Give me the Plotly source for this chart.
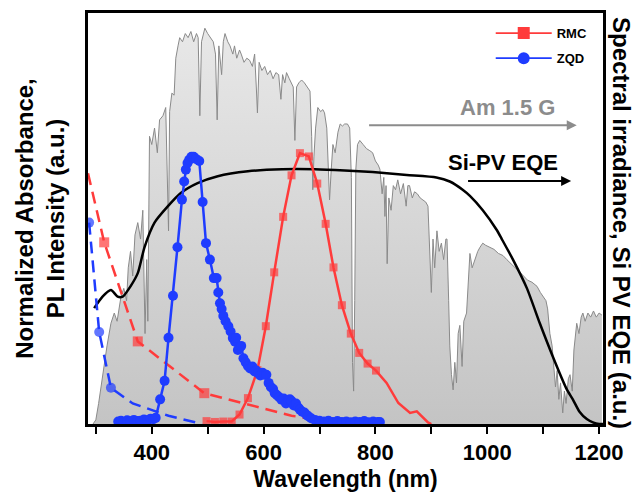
import plotly.graph_objects as go

# ---------------- data ----------------
# AM 1.5 G spectral irradiance (a.u.)
wl_am15 = [295, 300, 305, 310, 315, 320, 327, 333, 338, 345, 350, 355, 358, 362, 366, 370, 375, 380, 384, 388,
           391, 393, 396, 400, 405, 410, 414, 420, 425, 430, 432, 436, 440, 443, 447, 450, 455, 460, 465, 470,
           475, 480, 483, 486, 489, 495, 500, 505, 510, 514, 517, 520, 525, 528, 531, 536, 540, 545, 548, 552,
           557, 560, 565, 570, 575, 580, 584, 587, 589, 592, 597, 602, 607, 612, 617, 622, 627, 631, 634, 638,
           641, 646, 650, 653, 656, 659, 663, 668, 673, 678, 683, 686, 688, 690, 693, 697, 702, 706, 709, 713,
           716, 718, 721, 724, 728, 733, 737, 741, 745, 750, 754, 757, 759, 761, 763, 765, 768, 772, 778, 784,
           790, 795, 800, 805, 808, 812, 815, 817, 819, 821, 824, 828, 832, 836, 840, 845, 850, 855, 858, 861,
           866, 870, 875, 880, 885, 890, 894, 897, 900, 903, 906, 910, 914, 918, 922, 926, 928, 931, 933, 936,
           939, 942, 945, 948, 951, 955, 958, 963, 966, 969, 973, 978, 983, 987, 992, 997, 1005, 1012, 1020, 1028,
           1035, 1042, 1050, 1058, 1065, 1072, 1080, 1089, 1095, 1100, 1105, 1108, 1112, 1116, 1119, 1122, 1125,
           1128, 1131, 1135, 1138, 1141, 1145, 1148, 1152, 1155, 1160, 1164, 1168, 1171, 1175, 1180, 1185, 1190,
           1195, 1200, 1205]
irr_am15 = [0.0, 0.01, 0.05, 0.10, 0.148, 0.19, 0.245, 0.27, 0.25, 0.31, 0.33, 0.30, 0.38, 0.42, 0.36, 0.46, 0.49, 0.45, 0.52, 0.22,
            0.40, 0.25, 0.70, 0.68, 0.72, 0.66, 0.74, 0.75, 0.77, 0.47, 0.76, 0.805, 0.80, 0.89, 0.92, 0.94, 0.93, 0.95, 0.94, 0.955,
            0.93, 0.95, 0.94, 0.75, 0.93, 0.963, 0.95, 0.94, 0.93, 0.90, 0.74, 0.92, 0.85, 0.93, 0.95, 0.93, 0.92, 0.90, 0.92, 0.89,
            0.91, 0.90, 0.88, 0.89, 0.885, 0.87, 0.90, 0.82, 0.757, 0.88, 0.86, 0.87, 0.85, 0.86, 0.84, 0.855, 0.85, 0.79, 0.85, 0.83,
            0.855, 0.84, 0.83, 0.82, 0.69, 0.82, 0.83, 0.837, 0.83, 0.82, 0.81, 0.70, 0.57, 0.65, 0.72, 0.77, 0.76, 0.765, 0.757, 0.72,
            0.60, 0.545, 0.62, 0.68, 0.66, 0.71, 0.73, 0.725, 0.73, 0.73, 0.72, 0.60, 0.15, 0.08, 0.30, 0.62, 0.68, 0.69, 0.68, 0.67,
            0.665, 0.66, 0.64, 0.63, 0.62, 0.56, 0.60, 0.505, 0.58, 0.39, 0.55, 0.52, 0.58, 0.57, 0.594, 0.56, 0.585, 0.53, 0.58, 0.58,
            0.55, 0.565, 0.56, 0.55, 0.545, 0.54, 0.53, 0.42, 0.32, 0.45, 0.38, 0.47, 0.42, 0.44, 0.40, 0.45, 0.45, 0.30, 0.19, 0.12,
            0.083, 0.15, 0.10, 0.22, 0.24, 0.14, 0.25, 0.27, 0.36, 0.415, 0.38, 0.40, 0.42, 0.43, 0.44, 0.435, 0.43, 0.425, 0.415, 0.41,
            0.40, 0.39, 0.38, 0.37, 0.36, 0.35, 0.345, 0.335, 0.32, 0.31, 0.30, 0.28, 0.22, 0.19, 0.14, 0.09, 0.13,
            0.06, 0.10, 0.027, 0.08, 0.05, 0.11, 0.12, 0.08, 0.18, 0.245, 0.22, 0.26, 0.27, 0.25, 0.27, 0.26, 0.275,
            0.26, 0.27, 0.265]

# Si-PV EQE (a.u.)
wl_eqe = [297, 312, 327, 339, 348, 362, 375, 387, 405, 429, 452, 482, 518, 572, 633, 692, 745, 795, 856, 909,
          933, 956, 969, 992, 1017, 1026, 1046, 1071, 1094, 1117, 1142, 1153, 1165, 1178, 1189, 1200, 1207]
eqe = [0.282, 0.31, 0.326, 0.31, 0.31, 0.335, 0.367, 0.43, 0.49, 0.53, 0.562, 0.586, 0.603, 0.615, 0.62, 0.62, 0.617, 0.613, 0.606, 0.60,
       0.59, 0.57, 0.555, 0.52, 0.472, 0.45, 0.40, 0.33, 0.245, 0.165, 0.085, 0.06, 0.03, 0.012, 0.004, 0.0, 0.0]

# RMC photoluminescence (normalized)
wl_rmc_pl = [498, 513, 528, 543, 557, 572, 589, 604, 619, 635, 650, 665, 681, 696, 711, 725, 740, 756, 771, 786, 801,
             820, 841, 862, 874, 894, 900]
rmc_pl = [0.007, 0.005, 0.006, 0.006, 0.023, 0.063, 0.131, 0.238, 0.369, 0.504, 0.605, 0.659, 0.651, 0.585, 0.487, 0.381,
          0.289, 0.22, 0.173, 0.147, 0.13, 0.10, 0.051, 0.027, 0.031, 0.004, 0.0]
rmc_pl_marked = [True] * 21 + [False] * 6

# ZQD photoluminescence (normalized)
wl_zqd_pl = [340, 345, 350, 356, 362, 368, 374, 380, 386, 392, 398, 403, 407, 415, 423, 430, 438, 446, 454, 458,
             461, 464, 467, 471, 475, 479, 485, 491, 497, 504, 511, 516, 519, 522, 525, 528, 532, 537, 541, 545,
             549, 551, 554, 557, 560, 564, 568, 572, 576, 580, 584, 587, 590, 594, 598, 601, 605, 609, 613, 617,
             620, 624, 628, 632, 636, 640, 644, 647, 650, 654, 658, 662, 665, 669, 673, 677, 680, 685, 692, 700,
             708, 716, 724, 732, 740, 748, 756, 764, 772, 780, 788, 796, 804, 808]
zqd_pl = [0.006, 0.008, 0.005, 0.009, 0.006, 0.01, 0.007, 0.008, 0.011, 0.009, 0.013, 0.012, 0.015, 0.06, 0.105, 0.21, 0.312, 0.43, 0.546, 0.59,
          0.619, 0.635, 0.643, 0.65, 0.65, 0.645, 0.64, 0.54, 0.44, 0.40, 0.355, 0.355, 0.32, 0.294, 0.28, 0.263, 0.25, 0.238, 0.225, 0.209,
          0.20, 0.21, 0.18, 0.185, 0.19, 0.16, 0.15, 0.141, 0.135, 0.14, 0.128, 0.13, 0.124, 0.118, 0.125, 0.12, 0.12, 0.10, 0.09, 0.085,
          0.075, 0.07, 0.065, 0.059, 0.062, 0.05, 0.058, 0.06, 0.056, 0.045, 0.05, 0.04, 0.035, 0.03, 0.028, 0.022, 0.019, 0.014, 0.01, 0.008,
          0.006, 0.008, 0.005, 0.007, 0.005, 0.006, 0.004, 0.006, 0.005, 0.007, 0.004, 0.006, 0.005, 0.005]

# Absorbance (normalized)
wl_rmc_abs = [286, 315, 375, 494, 650, 700]
rmc_abs = [0.61, 0.442, 0.201, 0.075, 0.02, 0.01]
rmc_abs_marked = [False, True, True, True, False, False]

wl_zqd_abs = [288, 306, 327, 366, 430, 490]
zqd_abs = [0.49, 0.224, 0.088, 0.05, 0.02, 0.0]
zqd_abs_marked = [True, True, True, False, False, False]

legend_names = ["RMC", "ZQD"]

x_tick_vals = [300, 400, 500, 600, 700, 800, 900, 1000, 1100, 1200]
x_tick_text = ["", "400", "", "600", "", "800", "", "1000", "", "1200"]

# ---------------- styling ----------------
RED = "#ff3b3b"
BLUE = "#1f3cff"
FONT = "Liberation Sans"

def sizes(flags, s):
    return [s if f else 0 for f in flags]

fig = go.Figure()

# spectrum (right-hand base axis)
fig.add_trace(go.Scatter(
    x=wl_am15, y=irr_am15, mode="lines", yaxis="y", showlegend=False,
    line=dict(color="#8a8a8a", width=1),
    fill="tozeroy",
    fillgradient=dict(type="vertical", colorscale=[[0, "#c4c4c4"], [1, "#e8e8e8"]]),
))
fig.add_trace(go.Scatter(
    x=wl_eqe, y=eqe, mode="lines", yaxis="y", showlegend=False,
    line=dict(color="black", width=2.5, shape="spline", smoothing=0.6),
))

# absorbance (dashed)
fig.add_trace(go.Scatter(
    x=wl_rmc_abs, y=rmc_abs, mode="lines+markers", yaxis="y2", showlegend=False,
    line=dict(color=RED, width=2.5, dash="12px,7px"),
    marker=dict(symbol="square", size=sizes(rmc_abs_marked, 10), color=RED, line=dict(width=0)),
))
fig.add_trace(go.Scatter(
    x=wl_zqd_abs, y=zqd_abs, mode="lines+markers", yaxis="y2", showlegend=False,
    line=dict(color=BLUE, width=2.5, dash="12px,7px"),
    marker=dict(symbol="circle", size=sizes(zqd_abs_marked, 10), color=BLUE, line=dict(width=0)),
))

# photoluminescence
fig.add_trace(go.Scatter(
    x=wl_rmc_pl, y=rmc_pl, mode="lines+markers", yaxis="y2", name="RMC", showlegend=False,
    line=dict(color=RED, width=2.5),
    marker=dict(symbol="square", size=sizes(rmc_pl_marked, 8), color=RED, line=dict(width=0)),
))
fig.add_trace(go.Scatter(
    x=wl_zqd_pl, y=zqd_pl, mode="lines+markers", yaxis="y2", name="ZQD", showlegend=False,
    line=dict(color=BLUE, width=2.5),
    marker=dict(symbol="circle", size=10, color=BLUE, line=dict(width=0)),
))

# legend entries (thin line, large symbol, as in the reference key)
fig.add_trace(go.Scatter(
    x=[None], y=[None], mode="lines+markers", yaxis="y2", name=legend_names[0], legend="legend",
    line=dict(color=RED, width=1.6), marker=dict(symbol="square", size=12, color=RED, line=dict(width=0)),
))
fig.add_trace(go.Scatter(
    x=[None], y=[None], mode="lines+markers", yaxis="y2", name=legend_names[1], legend="legend2",
    line=dict(color=BLUE, width=1.6), marker=dict(symbol="circle", size=12, color=BLUE, line=dict(width=0)),
))

axis_line = dict(showline=True, linecolor="black", linewidth=2.5, showgrid=False, zeroline=False, automargin=False)
legend_style = dict(xanchor="left", yanchor="middle", bgcolor="rgba(0,0,0,0)",
                    font=dict(size=13, family=FONT, weight="bold"), itemwidth=56)

fig.update_layout(
    width=635, height=492,
    margin=dict(l=88, r=32, t=13, b=68, autoexpand=False),
    paper_bgcolor="white", plot_bgcolor="white",
    font=dict(family=FONT, color="black", size=22, weight="bold"),
    xaxis=dict(
        range=[286, 1207], tickvals=x_tick_vals, ticktext=x_tick_text,
        ticks="outside", ticklen=7, tickwidth=2, tickcolor="black",
        tickfont=dict(size=22, family=FONT, weight="bold"),
        title=dict(text="Wavelength (nm)", font=dict(size=23, family=FONT, weight="bold"), standoff=8),
        mirror=True, **axis_line,
    ),
    yaxis=dict(range=[0, 1], side="right", showticklabels=False, ticks="", **axis_line),
    yaxis2=dict(
        range=[0, 1], overlaying="y", side="left", showticklabels=False, ticks="",
        title=dict(text="Normalized Absorbance,<br>PL Intensity (a.u.)",
                   font=dict(size=24, family=FONT, weight="bold"), standoff=14),
        **axis_line,
    ),
    legend=dict(x=0.782, y=0.951, **legend_style),
    legend2=dict(x=0.782, y=0.890, **legend_style),
    annotations=[
        dict(text="Spectral irradiance, Si PV EQE (a.u.)", textangle=90, xref="paper", yref="paper",
             x=1.037, y=0.489, xanchor="center", yanchor="middle", showarrow=False,
             font=dict(size=24, family=FONT, weight="bold")),
        dict(text="Am 1.5 G", x=1037, y=0.771, xref="x", yref="y", showarrow=False,
             font=dict(size=22, family=FONT, weight="bold", color="#8c8c8c")),
        dict(text="", x=1160, y=0.727, ax=786, ay=0.727, xref="x", yref="y", axref="x", ayref="y",
             showarrow=True, arrowhead=2, arrowsize=1, arrowwidth=2, arrowcolor="#8c8c8c"),
        dict(text="Si-PV EQE", x=1028, y=0.637, xref="x", yref="y", showarrow=False,
             font=dict(size=22, family=FONT, weight="bold", color="black")),
        dict(text="", x=1150, y=0.591, ax=963, ay=0.591, xref="x", yref="y", axref="x", ayref="y",
             showarrow=True, arrowhead=2, arrowsize=1, arrowwidth=2, arrowcolor="black"),
    ],
)

fig.write_html("out.html", config={"displayModeBar": False},
               post_script="document.body.style.margin='0';document.body.style.padding='0';")
